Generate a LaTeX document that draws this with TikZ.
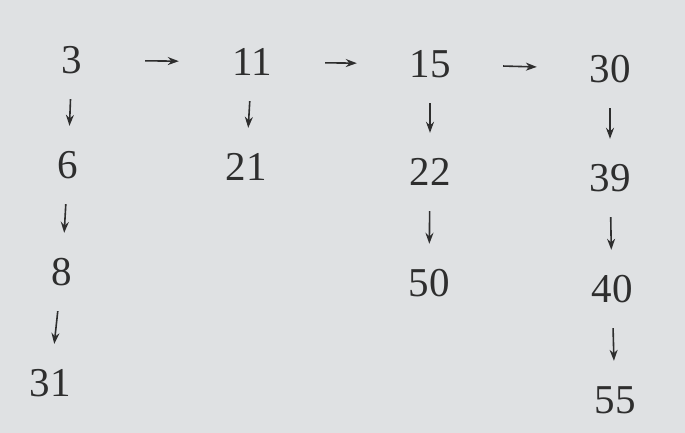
\documentclass[tikz,border=0pt]{standalone}
\usepackage{fontspec}
\setmainfont{Liberation Serif}
\usepackage{tikz}
\usetikzlibrary{arrows.meta}

\definecolor{paper}{HTML}{DFE1E3}
\definecolor{ink}{HTML}{2E2E2E}

\begin{document}
\begin{tikzpicture}[
  x=1pt, y=-1pt,
  num/.style={text=ink, font=\fontsize{41}{41}\selectfont, inner sep=0pt, minimum width=50pt, minimum height=40pt},
  down/.style={draw=ink, line width=1.6pt, -{Stealth[length=11pt, width=8pt]}, shorten <=19pt, shorten >=19pt},
  across/.style={draw=ink, line width=1.6pt, -{Stealth[length=11pt, width=8pt]}, shorten <=48pt, shorten >=48pt}
]
\fill[paper] (0,0) rectangle (685,433);
\useasboundingbox (0,0) rectangle (685,433);

% first column
\node[num] (n3) at (72,60) {3};
\node[num] (n6) at (68,165) {6};
\node[num] (n8) at (62,272) {8};
\node[num] (n31) at (50,383) {31};
% second column
\node[num] (n11) at (252,62) {11};
\node[num] (n21) at (246,167) {21};
% third column
\node[num] (n15) at (430,64) {15};
\node[num] (n22) at (430,172) {22};
\node[num] (n50) at (429,283) {50};
% fourth column
\node[num] (n30) at (610,69) {30};
\node[num] (n39) at (610,178) {39};
\node[num] (n40) at (612,289) {40};
\node[num] (n55) at (615,400) {55};

\draw[across] (n3) -- (n11);
\draw[across] (n11) -- (n15);
\draw[across] (n15) -- (n30);

\draw[down] (n3) -- (n6);
\draw[down] (n6) -- (n8);
\draw[down] (n8) -- (n31);
\draw[down] (n11) -- (n21);
\draw[down] (n15) -- (n22);
\draw[down] (n22) -- (n50);
\draw[down] (n30) -- (n39);
\draw[down] (n39) -- (n40);
\draw[down] (n40) -- (n55);
\end{tikzpicture}
\end{document}
